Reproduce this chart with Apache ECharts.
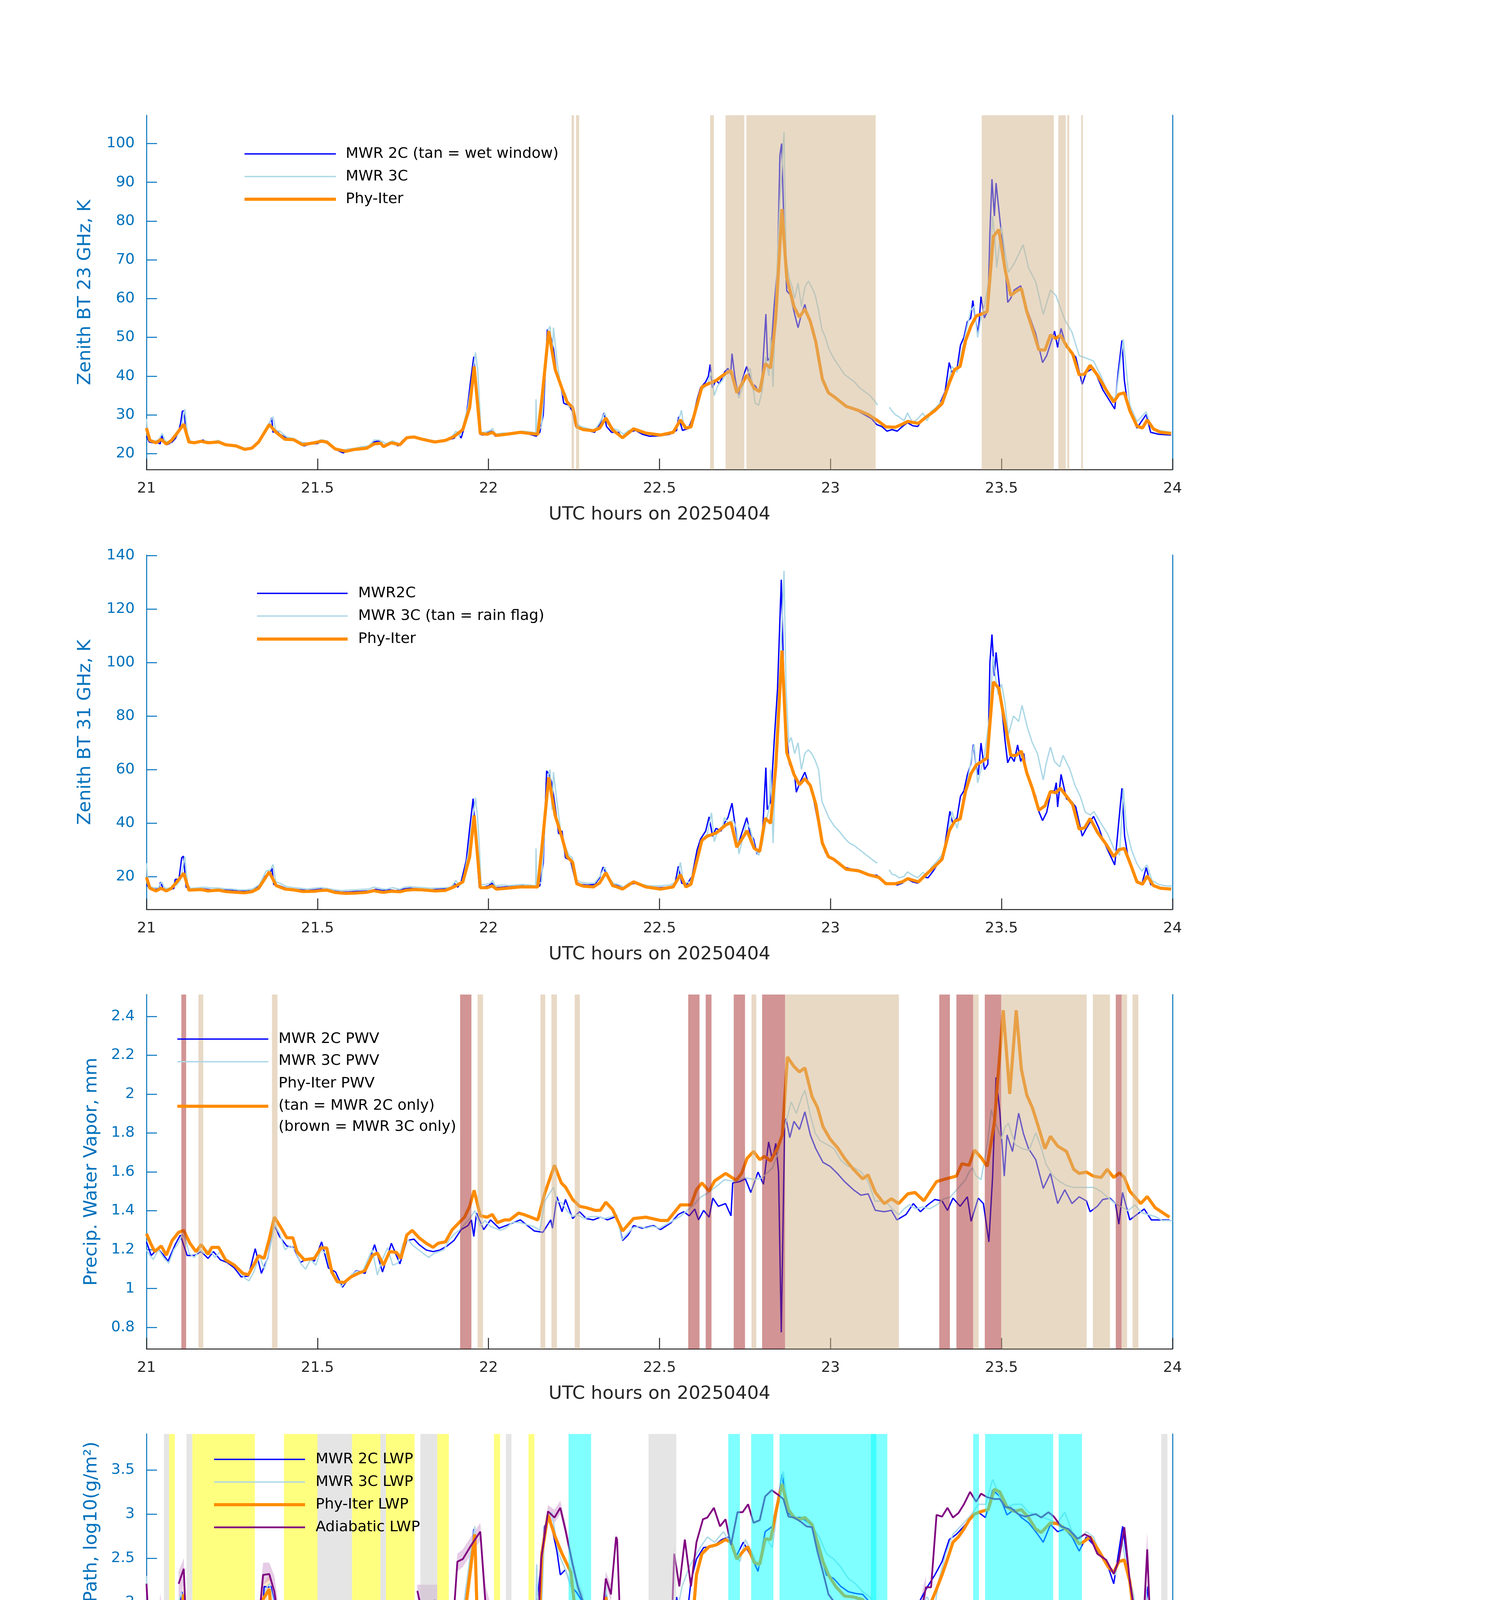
<!DOCTYPE html>
<html><head><meta charset="utf-8">
<script src="https://cdn.jsdelivr.net/npm/echarts@6/dist/echarts.min.js"></script>
<style>html,body{margin:0;padding:0;background:#fff}#c{width:3825px;height:6000px}</style>
</head><body><div id="c"></div>
<script>
// ---------------- DATA ----------------
const xTicks = [21, 21.5, 22, 22.5, 23, 23.5, 24];
const yTicks23 = [20,30,40,50,60,70,80,90,100];
const yTicks31 = [20,40,60,80,100,120,140];
const yTicksPWV = [0.8,1,1.2,1.4,1.6,1.8,2,2.2,2.4];
const yTicksLWP = [0,0.5,1,1.5,2,2.5,3,3.5];
const yTicksFlag = [0,2,4,6,8,10];

// Phy-Iter retrieval times (hours) shared by the two brightness-temperature panels
const phyT = [21.0,21.01,21.028,21.043,21.058,21.073,21.089,21.109,21.124,21.14,21.16,21.18,21.211,21.231,21.262,21.287,21.308,21.328,21.359,21.379,21.405,21.43,21.456,21.491,21.512,21.527,21.552,21.583,21.609,21.644,21.665,21.685,21.693,21.716,21.741,21.761,21.782,21.807,21.843,21.874,21.899,21.925,21.945,21.958,21.976,21.996,22.011,22.023,22.052,22.093,22.144,22.156,22.176,22.195,22.215,22.23,22.246,22.258,22.277,22.307,22.325,22.343,22.363,
22.376,22.392,22.424,22.46,22.503,22.54,22.561,22.577,22.592,22.624,22.64,22.666,22.693,22.709,22.726,22.756,22.777,22.793,22.809,22.825,22.84,22.858,22.872,22.893,22.909,22.925,22.941,22.957,22.976,22.994,23.01,23.046,23.083,23.11,23.141,23.162,23.189,23.21,23.226,23.257,23.279,23.305,23.326,23.347,23.363,23.379,23.395,23.411,23.426,23.458,23.476,23.492,23.511,23.527,23.543,23.558,23.574,23.59,23.609,23.627,23.643,23.659,23.672,23.69,23.708,23.727,23.743,23.759,23.78,23.806,23.828,23.843,23.859,23.875,23.896,23.912,23.926,23.944,23.965,23.996];
const phyBT23 = [26.6,23.4,22.8,23.7,22.5,23.4,25.2,27.6,23.0,22.8,23.2,22.8,23.0,22.3,22.0,21.1,21.4,23.0,27.5,25.5,23.7,23.6,22.3,22.8,23.2,23.0,21.2,20.6,21.1,21.4,22.5,22.7,21.8,22.8,22.3,24.1,24.3,23.7,23.0,23.4,24.4,26.2,31.9,42.5,25.2,25.0,25.5,24.7,25.0,25.5,25.0,34.0,51.6,41.7,36.8,33.3,31.9,26.9,26.2,25.9,26.6,29.2,26.1,
25.2,24.1,26.4,25.3,24.8,25.5,28.7,26.6,26.9,37.2,37.9,38.9,40.7,41.4,35.7,40.3,36.8,36.0,43.2,42.1,55.2,83.1,65.4,58.0,55.2,57.3,54.1,48.8,39.3,35.7,34.7,32.2,31.1,30.1,28.3,26.9,26.8,27.6,28.3,27.8,29.4,31.1,32.9,38.2,41.7,42.5,49.2,53.0,55.5,56.6,76.0,77.8,67.2,60.8,61.9,62.6,56.6,52.3,46.8,46.7,50.6,49.7,50.6,47.8,45.7,40.3,40.5,42.8,40.3,36.4,33.3,35.3,35.7,31.1,27.1,26.6,28.7,26.4,25.5,25.2];
const phyBT31 = [19.7,15.6,14.6,15.6,14.6,15.6,18.0,21.2,14.9,15.0,15.1,14.6,14.9,14.4,14.1,13.9,14.3,15.6,21.7,16.6,15.3,15.0,14.4,14.5,14.8,14.9,14.0,13.7,13.8,14.1,14.7,14.2,14.1,14.5,14.3,14.9,15.1,15.0,14.6,14.8,16.1,18.0,27.4,42.8,15.8,15.8,16.5,15.3,15.6,16.1,16.1,30.5,57.1,42.8,34.6,27.4,25.3,17.3,16.4,16.1,17.6,21.4,16.6,
16.1,15.3,18.0,16.1,15.3,16.1,20.7,16.1,17.1,33.5,35.1,36.3,39.2,40.2,31.0,37.1,30.5,29.4,41.8,39.9,61.2,104.5,66.4,58.2,54.3,56.6,54.0,47.0,32.5,27.4,26.4,22.7,22.1,20.7,19.7,17.3,17.3,18.0,19.2,18.0,20.7,23.8,26.4,37.0,40.7,41.5,52.0,58.5,61.7,64.3,92.8,90.4,76.6,65.3,65.3,66.9,58.7,53.0,44.8,46.4,51.8,51.3,53.0,50.0,46.9,37.7,38.2,41.7,36.6,32.0,27.4,30.0,30.5,25.3,18.0,17.1,20.2,16.6,15.6,15.3];

const bt23_2C = [[21.0,24.5],[21.008,23.0],[21.02,22.8],[21.03,23.0],[21.04,22.5],[21.045,25.0],[21.05,23.0],[21.06,22.3],[21.075,23.0],[21.085,24.0],[21.095,26.0],[21.1,28.0],[21.105,31.0],[21.11,31.0],[21.115,26.0],[21.122,23.5],[21.13,22.8],[21.15,23.0],[21.165,23.5],[21.18,22.7],[21.2,23.1],[21.22,22.8],[21.24,22.2],[21.26,22.0],[21.28,21.3],[21.3,21.3],[21.315,22.0],[21.33,23.5],[21.345,25.5],[21.36,28.0],[21.366,29.2],[21.37,25.5],[21.38,26.0],[21.39,25.0],[21.41,24.0],[21.43,23.6],[21.45,22.8],[21.46,22.0],[21.48,22.5],[21.5,22.6],[21.515,23.5],[21.53,23.0],[21.545,21.5],[21.56,20.8],[21.575,20.2],[21.59,20.8],[21.61,21.0],[21.63,21.5],[21.65,21.8],[21.665,23.0],[21.68,23.3],[21.69,22.0],[21.705,22.5],[21.72,23.0],[21.735,22.0],[21.75,23.5],[21.765,24.0],[21.78,24.2],[21.8,23.8],[21.82,23.3],[21.84,23.0],[21.86,23.2],[21.88,23.5],[21.9,24.0],[21.91,25.5],[21.92,24.0],[21.93,27.0],[21.94,33.0],[21.948,39.0],[21.957,45.0],[21.965,35.0],[21.975,25.0],[21.985,24.8],[22.0,25.5],[22.01,25.8],[22.02,24.5],[22.04,25.0],[22.06,25.0],[22.08,25.3],[22.1,25.5],[22.12,25.0],[22.14,24.5],[22.15,25.5],[22.16,30.0],[22.172,52.0],[22.18,51.0],[22.19,47.0],[22.2,40.0],[22.21,38.5],[22.22,33.0],[22.235,32.5],[22.245,31.0],[22.255,27.0],[22.27,26.5],[22.29,26.0],[22.31,25.5],[22.325,27.5],[22.338,30.5],[22.345,27.0],[22.36,25.5],[22.38,25.5],[22.39,24.2],[22.41,25.5],[22.43,26.0],[22.45,25.0],[22.47,24.5],[22.5,24.6],[22.53,25.0],[22.55,26.0],[22.556,29.5],[22.567,26.0],[22.585,26.5],[22.6,30.0],[22.61,34.0],[22.62,37.0],[22.635,38.5],[22.643,40.0],[22.648,43.0],[22.655,37.0],[22.665,39.0],[22.675,38.0],[22.69,41.0],[22.7,42.0],[22.708,40.5],[22.712,45.8],[22.72,40.0],[22.73,35.0],[22.745,40.0],[22.755,42.5],[22.77,38.0],[22.78,37.5],[22.79,36.0],[22.8,40.0],[22.811,56.0],[22.816,44.0],[22.825,45.0],[22.835,58.0],[22.845,68.0],[22.852,97.0],[22.857,100.0],[22.865,75.0],[22.872,62.0],[22.882,61.0],[22.895,56.0],[22.905,52.5],[22.915,56.0],[22.925,58.5],[22.935,55.0],[22.95,52.0],[22.96,47.0],[22.975,39.0],[22.99,36.0],[23.0,35.5],[23.02,34.0],[23.04,32.5],[23.06,31.8],[23.08,31.0],[23.1,30.0],[23.12,29.0],[23.135,27.5],[23.15,27.0],[23.165,25.8],[23.18,26.2],[23.195,25.8],[23.21,27.0],[23.225,28.0],[23.24,27.2],[23.255,27.0],[23.27,29.0],[23.285,29.5],[23.3,31.0],[23.32,33.0],[23.335,36.0],[23.347,43.5],[23.355,41.0],[23.37,42.0],[23.38,48.0],[23.39,50.0],[23.4,54.0],[23.41,55.0],[23.416,59.5],[23.425,54.0],[23.432,51.0],[23.44,60.5],[23.45,55.0],[23.46,57.0],[23.466,77.0],[23.472,90.8],[23.479,81.3],[23.484,89.8],[23.495,80.6],[23.511,67.9],[23.518,59.0],[23.527,60.1],[23.537,62.2],[23.556,63.3],[23.574,57.3],[23.6,50.9],[23.62,43.5],[23.632,45.3],[23.655,51.6],[23.664,47.4],[23.674,52.3],[23.69,47.4],[23.717,44.9],[23.736,37.9],[23.748,41.0],[23.769,42.1],[23.796,36.5],[23.831,31.5],[23.841,41.0],[23.852,49.2],[23.859,39.0],[23.87,31.9],[23.896,26.6],[23.923,30.1],[23.936,25.5],[23.96,25.0],[23.996,24.8]];
const bt23_3C = [[21.0,29.0],[21.005,24.0],[21.02,23.2],[21.035,23.5],[21.046,25.2],[21.055,23.2],[21.07,22.8],[21.085,24.5],[21.1,26.5],[21.112,31.5],[21.12,25.0],[21.13,23.0],[21.15,23.2],[21.17,23.3],[21.19,23.0],[21.21,23.4],[21.23,22.5],[21.25,22.2],[21.27,21.8],[21.29,21.4],[21.31,21.6],[21.33,23.5],[21.35,26.0],[21.362,28.5],[21.37,29.5],[21.378,26.0],[21.39,25.8],[21.41,24.3],[21.43,23.9],[21.45,23.0],[21.47,22.7],[21.49,22.8],[21.51,23.6],[21.53,23.2],[21.55,21.4],[21.57,20.8],[21.59,21.2],[21.61,21.4],[21.63,21.8],[21.65,22.0],[21.665,23.5],[21.68,23.5],[21.7,22.6],[21.72,23.3],[21.74,22.5],[21.755,23.8],[21.77,24.5],[21.79,24.2],[21.81,23.9],[21.83,23.5],[21.85,23.2],[21.87,23.6],[21.89,24.0],[21.905,25.8],[21.915,24.5],[21.925,27.0],[21.94,32.0],[21.95,38.0],[21.962,46.1],[21.968,42.0],[21.972,36.0],[21.978,25.5],[21.99,25.5],[22.005,26.0],[22.012,26.5],[22.02,25.0],[22.04,25.3],[22.06,25.3],[22.08,25.6],[22.1,25.8],[22.12,25.6],[22.138,25.4],[22.139,34.0],[22.141,25.4],[22.155,27.0],[22.165,40.0],[22.175,52.0],[22.18,52.9],[22.186,45.0],[22.19,52.5],[22.2,44.0],[22.21,38.0],[22.218,35.0],[22.225,35.5],[22.235,32.0],[22.245,32.5],[22.255,28.0],[22.27,27.0],[22.29,26.5],[22.31,26.0],[22.325,28.0],[22.34,30.5],[22.35,27.5],[22.365,26.5],[22.38,26.0],[22.395,25.0],[22.41,26.0],[22.43,26.3],[22.45,25.5],[22.47,25.0],[22.5,25.0],[22.53,25.3],[22.55,26.5],[22.564,31.2],[22.572,26.5],[22.59,27.0],[22.605,31.0],[22.62,36.0],[22.64,38.0],[22.652,41.0],[22.66,35.0],[22.67,37.5],[22.685,39.0],[22.7,41.5],[22.715,40.0],[22.725,37.0],[22.732,34.3],[22.75,39.0],[22.765,42.0],[22.78,33.0],[22.79,32.5],[22.8,36.0],[22.81,45.0],[22.82,40.0],[22.825,50.0],[22.832,37.2],[22.84,60.0],[22.852,85.0],[22.864,103.0],[22.87,70.0],[22.88,65.0],[22.888,63.0],[22.895,60.0],[22.905,64.0],[22.915,58.0],[22.925,63.0],[22.935,64.5],[22.945,63.0],[22.955,61.0],[22.965,57.0],[22.975,52.0],[22.985,50.0],[22.995,47.0],[23.01,44.5],[23.025,42.5],[23.04,40.5],[23.055,39.5],[23.07,38.5],[23.085,37.0],[23.1,36.0],[23.115,35.0],[23.13,33.5],[23.137,32.5],[23.15,null],[23.172,32.0],[23.18,31.0],[23.19,30.0],[23.2,29.5],[23.215,28.5],[23.225,30.5],[23.24,28.0],[23.255,29.0],[23.27,30.5],[23.282,28.5],[23.295,31.0],[23.31,32.0],[23.325,33.5],[23.34,37.0],[23.355,42.5],[23.37,41.0],[23.385,47.0],[23.4,53.0],[23.41,57.0],[23.42,58.0],[23.43,50.0],[23.44,55.0],[23.45,58.0],[23.465,66.0],[23.474,81.3],[23.48,76.0],[23.486,68.0],[23.5,78.5],[23.51,72.0],[23.52,66.8],[23.537,69.0],[23.563,73.9],[23.579,67.9],[23.6,64.3],[23.622,55.9],[23.643,62.2],[23.659,60.8],[23.685,54.5],[23.706,51.3],[23.727,45.3],[23.748,44.6],[23.769,43.9],[23.791,40.0],[23.812,35.4],[23.833,34.0],[23.856,49.5],[23.875,32.6],[23.896,28.3],[23.923,30.8],[23.938,26.6],[23.96,26.0],[23.996,25.5]];

const bt31_2C = [[21.0,17.0],[21.01,15.5],[21.025,15.2],[21.037,15.5],[21.041,17.9],[21.05,15.0],[21.07,15.2],[21.08,15.5],[21.084,18.9],[21.095,19.0],[21.103,27.0],[21.108,27.6],[21.116,16.0],[21.13,15.2],[21.15,15.5],[21.17,15.3],[21.19,15.0],[21.21,15.0],[21.23,14.9],[21.25,14.8],[21.27,14.5],[21.29,14.5],[21.31,14.7],[21.33,16.5],[21.345,20.0],[21.36,21.0],[21.367,23.1],[21.372,17.0],[21.39,16.5],[21.41,15.5],[21.43,15.2],[21.45,15.0],[21.47,14.8],[21.49,15.0],[21.51,15.3],[21.53,15.0],[21.55,14.5],[21.57,14.2],[21.59,14.2],[21.61,14.4],[21.63,14.5],[21.65,14.6],[21.67,15.2],[21.69,14.7],[21.71,15.0],[21.73,14.7],[21.75,15.3],[21.77,15.6],[21.79,15.4],[21.81,15.2],[21.83,15.0],[21.85,15.2],[21.87,15.4],[21.89,15.6],[21.9,17.5],[21.91,16.0],[21.92,18.0],[21.935,26.0],[21.945,38.0],[21.955,49.1],[21.965,30.0],[21.973,16.0],[21.985,16.0],[22.0,16.5],[22.01,17.5],[22.02,15.8],[22.04,16.0],[22.06,16.2],[22.08,16.5],[22.1,16.5],[22.12,16.0],[22.14,15.8],[22.15,16.5],[22.16,25.0],[22.17,59.5],[22.178,58.0],[22.185,55.0],[22.195,46.0],[22.205,36.0],[22.215,37.0],[22.225,27.0],[22.24,26.0],[22.255,18.0],[22.27,17.0],[22.29,16.8],[22.31,17.0],[22.325,19.5],[22.335,23.5],[22.345,21.0],[22.36,17.0],[22.38,16.5],[22.395,15.5],[22.41,17.0],[22.43,17.5],[22.45,16.5],[22.47,16.0],[22.5,15.8],[22.53,16.0],[22.545,17.0],[22.555,23.8],[22.565,17.5],[22.58,17.0],[22.595,20.0],[22.61,30.0],[22.62,34.0],[22.635,37.0],[22.645,42.3],[22.655,35.0],[22.665,38.0],[22.68,37.0],[22.69,40.0],[22.7,42.0],[22.712,47.4],[22.72,40.0],[22.73,32.0],[22.745,38.0],[22.755,42.0],[22.765,36.0],[22.775,34.0],[22.785,28.4],[22.8,33.0],[22.811,60.7],[22.815,45.0],[22.825,48.0],[22.835,70.0],[22.845,90.0],[22.856,131.0],[22.863,95.0],[22.87,75.0],[22.88,62.0],[22.895,58.0],[22.9,51.5],[22.91,55.0],[22.925,59.0],[22.935,55.0],[22.945,53.0],[22.955,46.0],[22.97,36.0],[22.985,29.0],[23.0,27.0],[23.02,25.0],[23.04,23.5],[23.06,22.8],[23.08,22.5],[23.1,21.5],[23.12,20.5],[23.135,20.5],[23.15,19.0],[23.165,17.0],[23.18,17.5],[23.195,16.8],[23.21,17.5],[23.225,19.0],[23.24,18.0],[23.255,17.5],[23.27,20.0],[23.285,19.5],[23.3,22.0],[23.315,25.0],[23.33,28.0],[23.349,44.4],[23.357,40.0],[23.37,42.0],[23.38,50.0],[23.39,52.0],[23.4,58.0],[23.41,62.0],[23.418,69.4],[23.425,62.0],[23.432,58.0],[23.44,69.9],[23.45,60.0],[23.46,62.0],[23.466,100.0],[23.472,110.5],[23.479,95.0],[23.484,103.8],[23.495,90.0],[23.511,70.0],[23.518,62.5],[23.527,65.0],[23.537,63.0],[23.547,69.2],[23.556,63.0],[23.565,66.0],[23.574,58.0],[23.6,50.0],[23.61,44.0],[23.62,40.9],[23.632,44.0],[23.645,52.0],[23.655,52.0],[23.66,55.1],[23.664,46.0],[23.674,58.2],[23.69,49.0],[23.705,48.0],[23.717,46.0],[23.736,35.1],[23.748,38.0],[23.769,42.5],[23.785,38.0],[23.796,34.0],[23.81,30.0],[23.831,24.3],[23.841,38.0],[23.852,53.0],[23.86,35.0],[23.87,27.0],[23.885,22.0],[23.896,18.0],[23.91,17.0],[23.923,23.3],[23.936,17.0],[23.96,16.0],[23.98,15.7],[23.996,15.5]];
const bt31_3C = [[21.0,25.0],[21.005,16.5],[21.02,15.8],[21.035,15.8],[21.044,18.0],[21.055,15.5],[21.075,15.8],[21.09,17.0],[21.1,19.0],[21.112,27.5],[21.12,17.0],[21.13,15.5],[21.15,15.8],[21.17,16.0],[21.19,15.7],[21.21,15.7],[21.23,15.4],[21.25,15.3],[21.27,15.0],[21.29,15.0],[21.31,15.3],[21.33,17.0],[21.35,22.0],[21.362,22.5],[21.37,24.5],[21.378,18.0],[21.39,17.5],[21.41,16.2],[21.43,15.8],[21.45,15.6],[21.47,15.3],[21.49,15.6],[21.51,15.9],[21.53,15.5],[21.55,15.0],[21.57,14.7],[21.59,14.9],[21.61,15.0],[21.63,15.2],[21.65,15.3],[21.665,16.0],[21.68,15.6],[21.7,15.2],[21.72,15.8],[21.74,15.2],[21.755,16.0],[21.77,16.2],[21.79,16.0],[21.81,15.8],[21.83,15.6],[21.85,15.7],[21.87,15.8],[21.89,16.0],[21.905,18.5],[21.915,16.5],[21.925,18.5],[21.94,28.0],[21.95,38.0],[21.962,49.5],[21.968,42.0],[21.973,32.0],[21.978,17.0],[21.99,17.0],[22.005,17.5],[22.012,18.5],[22.02,16.5],[22.04,16.8],[22.06,16.6],[22.08,16.8],[22.1,17.0],[22.12,16.8],[22.138,16.5],[22.139,30.5],[22.141,16.5],[22.155,18.0],[22.165,40.0],[22.175,58.0],[22.18,60.0],[22.186,45.0],[22.19,59.0],[22.2,48.0],[22.21,38.0],[22.218,32.0],[22.225,31.0],[22.235,28.0],[22.245,27.0],[22.255,19.0],[22.27,17.8],[22.29,17.5],[22.31,17.5],[22.325,20.0],[22.34,23.5],[22.35,20.0],[22.365,17.5],[22.38,17.0],[22.395,16.0],[22.41,17.5],[22.43,18.0],[22.45,17.0],[22.47,16.5],[22.5,16.5],[22.53,16.8],[22.55,18.0],[22.561,25.3],[22.57,17.5],[22.59,18.0],[22.605,24.0],[22.62,33.0],[22.64,36.0],[22.652,43.8],[22.66,33.0],[22.67,37.0],[22.685,39.0],[22.69,42.0],[22.7,40.0],[22.715,41.0],[22.725,38.0],[22.732,28.4],[22.745,35.0],[22.755,40.0],[22.765,38.0],[22.78,30.0],[22.79,27.9],[22.8,32.0],[22.81,40.0],[22.82,45.0],[22.825,60.0],[22.832,32.5],[22.84,62.0],[22.852,95.0],[22.864,134.3],[22.87,90.0],[22.878,70.0],[22.885,72.0],[22.895,66.0],[22.905,70.0],[22.915,60.0],[22.925,66.0],[22.935,67.4],[22.945,66.0],[22.955,63.5],[22.965,60.0],[22.975,48.0],[22.985,45.0],[22.995,42.0],[23.01,39.0],[23.025,37.0],[23.04,34.5],[23.055,32.5],[23.07,31.5],[23.085,30.0],[23.1,28.5],[23.115,27.0],[23.13,25.5],[23.137,25.0],[23.15,null],[23.172,22.5],[23.18,20.8],[23.19,20.5],[23.2,19.5],[23.215,20.0],[23.225,21.7],[23.24,20.5],[23.255,19.5],[23.27,21.5],[23.282,20.5],[23.295,23.5],[23.31,25.5],[23.325,28.0],[23.34,33.0],[23.355,44.3],[23.37,38.0],[23.385,47.0],[23.4,55.0],[23.41,63.0],[23.42,69.4],[23.43,55.0],[23.44,60.0],[23.45,65.0],[23.465,80.0],[23.475,102.3],[23.482,95.0],[23.49,88.0],[23.5,92.0],[23.51,85.0],[23.52,73.0],[23.535,80.0],[23.55,78.0],[23.56,84.0],[23.575,76.0],[23.59,70.0],[23.605,66.0],[23.622,56.1],[23.63,62.0],[23.643,68.4],[23.655,63.0],[23.67,61.0],[23.68,65.3],[23.7,60.0],[23.715,54.0],[23.73,50.0],[23.745,44.0],[23.76,43.0],[23.77,44.3],[23.79,40.0],[23.81,36.0],[23.83,30.0],[23.845,28.0],[23.856,53.0],[23.865,38.0],[23.88,30.0],[23.895,25.0],[23.91,22.0],[23.925,24.3],[23.94,18.5],[23.96,17.0],[23.98,16.5],[24.0,16.4]];

const pwv2C = [[21.0,1.24],[21.014,1.17],[21.033,1.205],[21.048,1.176],[21.063,1.141],[21.084,1.226],[21.099,1.275],[21.119,1.17],[21.14,1.17],[21.16,1.19],[21.18,1.155],[21.196,1.19],[21.216,1.148],[21.236,1.134],[21.257,1.106],[21.277,1.06],[21.298,1.064],[21.318,1.205],[21.336,1.078],[21.354,1.155],[21.374,1.324],[21.389,1.268],[21.41,1.219],[21.43,1.212],[21.45,1.134],[21.471,1.155],[21.491,1.141],[21.512,1.24],[21.532,1.106],[21.553,1.085],[21.573,1.007],[21.593,1.057],[21.614,1.092],[21.639,1.078],[21.667,1.226],[21.69,1.085],[21.716,1.233],[21.741,1.127],[21.761,1.247],[21.782,1.254],[21.797,1.226],[21.818,1.198],[21.838,1.19],[21.858,1.198],[21.879,1.219],[21.899,1.247],[21.92,1.303],[21.94,1.324],[21.95,1.353],[21.957,1.268],[21.965,1.388],[21.986,1.303],[22.006,1.353],[22.031,1.31],[22.062,1.331],[22.093,1.353],[22.134,1.296],[22.159,1.289],[22.182,1.353],[22.187,1.31],[22.2,1.472],[22.215,1.395],[22.225,1.458],[22.246,1.36],[22.266,1.395],[22.286,1.36],[22.307,1.353],[22.327,1.367],[22.348,1.353],[22.368,1.367],[22.376,1.367],[22.392,1.247],[22.408,1.275],[22.424,1.324],[22.45,1.31],[22.482,1.324],[22.503,1.303],[22.534,1.339],[22.555,1.381],[22.571,1.395],[22.587,1.374],[22.603,1.409],[22.614,1.353],[22.629,1.402],[22.645,1.367],[22.656,1.465],[22.672,1.423],[22.693,1.437],[22.709,1.374],[22.714,1.543],[22.735,1.55],[22.751,1.564],[22.767,1.494],[22.788,1.599],[22.804,1.536],[22.819,1.754],[22.83,1.663],[22.84,1.747],[22.848,1.6],[22.856,0.775],[22.86,1.2],[22.866,1.85],[22.87,1.874],[22.881,1.776],[22.893,1.86],[22.909,1.818],[22.925,1.909],[22.941,1.79],[22.957,1.719],[22.978,1.649],[22.999,1.628],[23.02,1.592],[23.041,1.55],[23.067,1.508],[23.089,1.48],[23.11,1.487],[23.131,1.402],[23.157,1.395],[23.178,1.402],[23.194,1.353],[23.221,1.381],[23.242,1.437],[23.263,1.395],[23.284,1.43],[23.305,1.458],[23.326,1.451],[23.342,1.402],[23.358,1.465],[23.379,1.423],[23.4,1.472],[23.411,1.346],[23.432,1.465],[23.447,1.437],[23.463,1.24],[23.474,1.578],[23.484,2.086],[23.495,1.909],[23.508,1.578],[23.516,1.79],[23.532,1.705],[23.55,1.902],[23.564,1.797],[23.579,1.719],[23.6,1.663],[23.622,1.515],[23.643,1.592],[23.664,1.437],[23.685,1.508],[23.706,1.437],[23.727,1.472],[23.748,1.451],[23.759,1.395],[23.78,1.423],[23.796,1.458],[23.817,1.465],[23.833,1.437],[23.843,1.331],[23.854,1.494],[23.875,1.353],[23.896,1.381],[23.917,1.409],[23.938,1.353],[23.959,1.353],[23.991,1.353]];
const pwv3C = [[21.0,1.2],[21.01,1.17],[21.02,1.15],[21.035,1.2],[21.05,1.16],[21.065,1.13],[21.08,1.2],[21.095,1.24],[21.105,1.28],[21.115,1.25],[21.125,1.18],[21.14,1.16],[21.155,1.2],[21.17,1.18],[21.185,1.2],[21.2,1.16],[21.215,1.19],[21.23,1.15],[21.245,1.13],[21.26,1.12],[21.275,1.08],[21.29,1.05],[21.3,1.04],[21.315,1.09],[21.33,1.17],[21.345,1.1],[21.36,1.2],[21.375,1.33],[21.39,1.28],[21.405,1.2],[21.42,1.22],[21.435,1.2],[21.45,1.13],[21.465,1.1],[21.48,1.15],[21.495,1.12],[21.51,1.2],[21.525,1.18],[21.54,1.08],[21.555,1.06],[21.57,1.01],[21.585,1.04],[21.6,1.07],[21.615,1.09],[21.63,1.08],[21.645,1.14],[21.66,1.2],[21.675,1.07],[21.69,1.15],[21.705,1.21],[21.72,1.12],[21.735,1.13],[21.75,1.23],[21.765,1.25],[21.78,1.22],[21.795,1.2],[21.81,1.18],[21.825,1.16],[21.84,1.18],[21.855,1.19],[21.87,1.2],[21.885,1.25],[21.9,1.28],[21.915,1.3],[21.93,1.33],[21.945,1.36],[21.96,1.4],[21.975,1.32],[21.99,1.35],[22.005,1.32],[22.02,1.31],[22.035,1.3],[22.05,1.31],[22.07,1.34],[22.09,1.34],[22.11,1.33],[22.13,1.32],[22.15,1.3],[22.165,1.45],[22.175,1.48],[22.19,1.52],[22.2,1.45],[22.215,1.44],[22.23,1.4],[22.245,1.37],[22.26,1.38],[22.28,1.36],[22.3,1.37],[22.32,1.37],[22.34,1.36],[22.36,1.37],[22.375,1.38],[22.39,1.25],[22.405,1.28],[22.42,1.31],[22.44,1.32],[22.46,1.31],[22.48,1.32],[22.5,1.31],[22.52,1.33],[22.54,1.35],[22.56,1.37],[22.58,1.4],[22.6,1.43],[22.62,1.47],[22.64,1.49],[22.67,1.53],[22.69,1.56],[22.72,1.55],[22.75,1.57],[22.78,1.56],[22.8,1.57],[22.83,1.62],[22.845,1.69],[22.86,1.8],[22.872,1.87],[22.885,1.96],[22.9,1.9],[22.915,1.98],[22.925,2.02],[22.94,1.9],[22.955,1.8],[22.97,1.76],[22.99,1.74],[23.01,1.72],[23.03,1.66],[23.05,1.63],[23.07,1.62],[23.09,1.6],[23.11,1.55],[23.13,1.45],[23.15,1.45],[23.165,1.44],[23.18,1.41],[23.2,1.38],[23.215,1.41],[23.23,1.43],[23.25,1.41],[23.27,1.42],[23.29,1.41],[23.31,1.43],[23.33,1.46],[23.35,1.47],[23.365,1.5],[23.38,1.53],[23.395,1.56],[23.405,1.6],[23.415,1.62],[23.425,1.58],[23.44,1.56],[23.46,1.76],[23.47,1.92],[23.48,1.86],[23.5,1.77],[23.51,1.83],[23.52,1.85],[23.54,1.74],[23.56,1.72],[23.58,1.71],[23.6,1.8],[23.615,1.73],[23.63,1.64],[23.65,1.58],[23.67,1.55],[23.69,1.53],[23.71,1.52],[23.73,1.52],[23.75,1.52],[23.77,1.52],[23.79,1.5],[23.81,1.47],[23.83,1.44],[23.85,1.42],[23.87,1.4],[23.89,1.43],[23.91,1.39],[23.93,1.38],[23.95,1.37],[23.97,1.35],[24.0,1.35]];
const pwvPhy = [[21.0,1.282],[21.012,1.233],[21.024,1.19],[21.043,1.219],[21.058,1.172],[21.075,1.247],[21.094,1.289],[21.109,1.299],[21.127,1.233],[21.145,1.19],[21.16,1.226],[21.18,1.176],[21.191,1.212],[21.211,1.212],[21.231,1.148],[21.257,1.12],[21.282,1.078],[21.298,1.071],[21.328,1.169],[21.344,1.155],[21.359,1.254],[21.374,1.367],[21.394,1.311],[21.41,1.261],[21.428,1.261],[21.44,1.19],[21.461,1.148],[21.491,1.155],[21.51,1.209],[21.527,1.209],[21.542,1.085],[21.558,1.035],[21.578,1.031],[21.598,1.06],[21.619,1.078],[21.639,1.092],[21.66,1.169],[21.675,1.183],[21.693,1.12],[21.711,1.19],[21.731,1.186],[21.744,1.155],[21.761,1.275],[21.777,1.299],[21.797,1.261],[21.818,1.233],[21.838,1.212],[21.853,1.233],[21.874,1.24],[21.894,1.303],[21.914,1.339],[21.93,1.367],[21.945,1.423],[21.958,1.505],[21.976,1.374],[21.996,1.367],[22.011,1.381],[22.026,1.339],[22.047,1.353],[22.062,1.353],[22.088,1.388],[22.103,1.381],[22.144,1.353],[22.164,1.487],[22.193,1.634],[22.213,1.543],[22.225,1.522],[22.246,1.458],[22.266,1.423],[22.286,1.416],[22.312,1.402],[22.327,1.402],[22.343,1.444],[22.363,1.406],[22.392,1.296],[22.424,1.36],[22.46,1.367],[22.503,1.35],[22.524,1.35],[22.561,1.43],[22.592,1.43],[22.608,1.508],[22.624,1.543],[22.645,1.501],[22.661,1.553],[22.693,1.592],[22.724,1.557],[22.74,1.592],[22.756,1.67],[22.775,1.705],[22.793,1.663],[22.807,1.68],[22.825,1.656],[22.846,1.726],[22.859,1.79],[22.874,2.191],[22.893,2.142],[22.909,2.114],[22.925,2.135],[22.946,1.987],[22.962,1.931],[22.978,1.832],[22.999,1.768],[23.02,1.726],[23.041,1.67],[23.067,1.613],[23.094,1.564],[23.11,1.585],[23.131,1.494],[23.157,1.437],[23.178,1.462],[23.199,1.437],[23.226,1.487],[23.247,1.494],[23.273,1.451],[23.31,1.55],[23.337,1.564],[23.368,1.578],[23.384,1.642],[23.405,1.634],[23.421,1.712],[23.442,1.67],[23.458,1.628],[23.479,1.853],[23.505,2.431],[23.524,2.001],[23.543,2.431],[23.558,2.128],[23.574,1.994],[23.59,1.931],[23.609,1.825],[23.627,1.719],[23.643,1.783],[23.664,1.733],[23.69,1.705],[23.711,1.613],[23.727,1.592],[23.748,1.599],[23.769,1.578],[23.791,1.571],[23.809,1.613],[23.828,1.571],[23.845,1.595],[23.859,1.571],[23.875,1.501],[23.907,1.437],[23.926,1.473],[23.949,1.416],[23.991,1.367]];

const lwp2C = [[21.0,1.87],[21.01,1.31],[21.022,1.41],[21.031,1.31],[21.041,1.78],[21.051,1.31],[21.066,1.30],[21.073,1.31],[21.084,1.90],[21.094,1.87],[21.104,2.12],[21.114,1.70],[21.119,1.31],[21.129,1.31],[21.145,1.31],[21.155,1.31],[21.175,1.25],[21.191,1.34],[21.206,1.25],[21.216,1.37],[21.231,1.16],[21.247,1.28],[21.262,1.22],[21.277,1.13],[21.287,1.31],[21.303,1.08],[21.317,1.25],[21.328,1.31],[21.336,1.62],[21.344,2.18],[21.354,2.17],[21.364,2.18],[21.374,2.0],[21.384,1.68],[21.394,1.31],[21.41,1.31],[21.43,1.22],[21.445,1.13],[21.461,1.25],[21.476,1.28],[21.491,1.13],[21.507,1.30],[21.522,1.27],[21.537,1.25],[21.558,1.03],[21.568,1.25],[21.583,1.25],[21.593,1.11],[21.609,1.24],[21.629,1.10],[21.649,1.27],[21.665,1.19],[21.68,1.25],[21.7,1.27],[21.716,1.14],[21.736,1.16],[21.756,1.36],[21.772,1.34],[21.787,1.31],[21.802,1.24],[21.818,1.28],[21.838,1.19],[21.853,1.31],[21.863,1.14],[21.884,1.28],[21.894,1.72],[21.911,2.0],[21.925,1.87],[21.935,2.18],[21.95,2.55],[21.957,2.83],[21.965,2.12],[21.976,1.37],[21.986,1.56],[21.996,1.37],[22.011,1.76],[22.021,1.34],[22.034,1.41],[22.047,1.41],[22.06,1.31],[22.067,1.53],[22.081,1.34],[22.093,1.58],[22.103,1.39],[22.113,1.37],[22.128,1.31],[22.144,2.06],[22.164,2.86],[22.179,2.96],[22.2,2.58],[22.21,2.31],[22.225,2.37],[22.241,2.18],[22.256,2.12],[22.276,2.0],[22.297,1.56],[22.312,1.53],[22.327,1.56],[22.343,2.12],[22.353,1.87],[22.368,1.65],[22.376,1.56],[22.392,1.30],[22.402,1.59],[22.413,1.84],[22.424,1.81],[22.434,1.75],[22.45,1.56],[22.466,1.37],[22.482,1.41],[22.497,1.31],[22.513,1.37],[22.534,1.28],[22.55,2.06],[22.566,1.62],[22.582,1.90],[22.592,2.24],[22.608,2.49],[22.629,2.62],[22.656,2.63],[22.682,2.71],[22.703,2.74],[22.724,2.52],[22.745,2.68],[22.772,2.49],[22.788,2.35],[22.809,2.80],[22.83,2.86],[22.851,3.27],[22.859,3.45],[22.872,3.02],[22.893,2.96],[22.914,2.96],[22.935,2.90],[22.951,2.83],[22.967,2.58],[22.988,2.31],[23.009,2.27],[23.03,2.18],[23.052,2.12],[23.073,2.10],[23.094,2.09],[23.115,2.0],[23.136,2.0],[23.152,1.87],[23.168,1.68],[23.178,1.62],[23.199,1.68],[23.221,1.93],[23.242,1.90],[23.263,2.03],[23.284,2.18],[23.305,2.31],[23.326,2.46],[23.347,2.71],[23.368,2.77],[23.39,2.86],[23.411,2.96],[23.432,3.02],[23.453,2.96],[23.474,3.27],[23.495,3.20],[23.516,2.99],[23.537,3.05],[23.558,2.96],[23.579,2.90],[23.6,2.80],[23.622,2.68],[23.643,2.88],[23.664,2.80],[23.685,2.83],[23.706,2.74],[23.727,2.58],[23.748,2.74],[23.769,2.65],[23.791,2.52],[23.812,2.40],[23.828,2.21],[23.843,2.58],[23.854,2.86],[23.864,2.58],[23.875,2.24],[23.896,1.56],[23.912,1.37],[23.928,2.18],[23.949,1.34],[23.97,1.16],[23.986,1.19],[23.996,1.08]];
const lwp3C = [[21.0,2.3],[21.01,0.38],[21.022,0.94],[21.033,0.32],[21.041,0.63],[21.051,0.47],[21.066,0.94],[21.078,1.5],[21.089,1.93],[21.102,2.12],[21.114,1.56],[21.124,0.63],[21.135,0.32],[21.145,0.01],[21.165,0.01],[21.18,0.47],[21.191,0.16],[21.201,0.78],[21.211,0.16],[21.226,0.01],[21.236,0.30],[21.257,0.01],[21.277,0.0],[21.298,0.01],[21.316,0.01],[21.323,0.94],[21.336,1.87],[21.349,2.15],[21.359,2.21],[21.371,2.03],[21.384,1.62],[21.394,1.19],[21.405,0.78],[21.415,0.69],[21.425,0.32],[21.435,0.38],[21.445,0.01],[21.471,0.01],[21.476,0.19],[21.486,0.01],[21.502,0.01],[21.512,0.63],[21.527,0.23],[21.553,0.01],[21.644,0.01],[21.665,0.66],[21.68,0.16],[21.695,0.01],[21.711,0.63],[21.721,0.01],[21.756,0.01],[21.767,0.69],[21.782,0.63],[21.797,0.32],[21.812,0.47],[21.828,0.32],[21.843,0.01],[21.853,0.54],[21.869,0.63],[21.884,0.26],[21.894,1.25],[21.904,0.38],[21.914,1.93],[21.93,2.03],[21.945,2.49],[21.96,2.86],[21.97,1.41],[21.981,0.63],[21.991,1.25],[22.006,0.94],[22.016,1.25],[22.026,0.82],[22.042,0.94],[22.057,1.0],[22.072,0.78],[22.088,0.94],[22.103,1.0],[22.118,0.88],[22.134,0.94],[22.141,2.43],[22.149,1.34],[22.164,2.80],[22.185,3.02],[22.205,2.55],[22.225,2.37],[22.246,2.12],[22.266,1.87],[22.286,1.25],[22.307,1.56],[22.327,1.31],[22.343,2.18],[22.353,1.87],[22.363,1.25],[22.376,0.63],[22.392,0.32],[22.408,1.34],[22.424,1.87],[22.439,1.25],[22.46,0.94],[22.476,0.63],[22.492,0.78],[22.508,0.44],[22.524,0.94],[22.54,0.78],[22.55,1.87],[22.566,2.18],[22.587,2.40],[22.619,2.62],[22.64,2.74],[22.661,2.68],[22.687,2.80],[22.714,2.62],[22.735,2.46],[22.751,2.71],[22.772,2.55],[22.788,2.40],[22.809,2.74],[22.83,2.62],[22.851,3.24],[22.862,3.48],[22.877,3.05],[22.899,2.96],[22.92,2.93],[22.946,2.86],[22.967,2.74],[22.988,2.55],[23.009,2.49],[23.03,2.40],[23.052,2.27],[23.073,2.21],[23.094,2.12],[23.115,2.06],[23.136,1.96],[23.162,1.75],[23.178,1.75],[23.194,1.65],[23.221,1.81],[23.242,1.81],[23.263,2.0],[23.284,2.06],[23.3,1.81],[23.316,2.24],[23.337,2.55],[23.358,2.77],[23.39,2.90],[23.411,2.99],[23.432,3.11],[23.453,3.11],[23.474,3.39],[23.495,3.20],[23.516,3.08],[23.537,3.11],[23.558,3.11],[23.579,3.02],[23.6,2.99],[23.622,2.96],[23.643,2.93],[23.664,2.90],[23.685,3.02],[23.706,2.80],[23.727,2.71],[23.748,2.80],[23.769,2.74],[23.791,2.52],[23.812,2.43],[23.833,2.31],[23.854,2.68],[23.864,2.43],[23.886,2.09],[23.907,1.37],[23.922,2.18],[23.938,1.25],[23.959,0.94],[23.975,0.69],[23.986,0.47],[23.999,0.29]];
const lwpPhy = [[21.0,1.87],[21.012,0.94],[21.028,0.0],[21.041,1.28],[21.058,-0.15],[21.075,null],[21.092,1.67],[21.109,2.09],[21.117,-0.15],[21.2,null],[21.323,1.31],[21.34,2.03],[21.359,2.15],[21.394,0.60],[21.6,null],[21.892,0.94],[21.909,1.50],[21.925,1.69],[21.96,2.77],[21.976,0.60],[21.993,0.61],[22.011,1.25],[22.025,null],[22.042,0.60],[22.065,-0.15],[22.093,0.88],[22.101,-0.15],[22.12,null],[22.141,0.94],[22.156,2.55],[22.174,2.99],[22.195,2.74],[22.215,2.55],[22.241,2.34],[22.256,1.81],[22.271,1.16],[22.292,1.0],[22.307,0.86],[22.322,1.56],[22.343,2.06],[22.358,1.62],[22.373,0.94],[22.381,-0.15],[22.392,null],[22.402,-0.15],[22.413,1.47],[22.427,1.69],[22.445,1.37],[22.46,0.97],[22.466,-0.15],[22.5,null],[22.54,-0.15],[22.561,2.0],[22.577,0.51],[22.592,1.56],[22.608,2.31],[22.624,2.55],[22.645,2.63],[22.666,2.65],[22.693,2.71],[22.709,2.68],[22.726,2.49],[22.745,2.58],[22.758,2.63],[22.777,2.45],[22.793,2.43],[22.809,2.72],[22.825,2.71],[22.84,3.02],[22.858,3.34],[22.877,3.05],[22.893,2.96],[22.909,2.94],[22.925,2.96],[22.946,2.88],[22.962,2.68],[22.978,2.46],[22.994,2.31],[23.015,2.18],[23.041,2.07],[23.067,2.06],[23.094,2.03],[23.11,1.90],[23.136,1.87],[23.162,1.47],[23.18,1.45],[23.194,1.31],[23.21,1.50],[23.226,1.79],[23.242,1.65],[23.257,1.56],[23.273,2.0],[23.294,2.0],[23.31,2.15],[23.326,2.31],[23.342,2.49],[23.358,2.68],[23.374,2.74],[23.39,2.83],[23.405,2.93],[23.421,3.0],[23.442,3.03],[23.461,3.05],[23.479,3.28],[23.495,3.25],[23.516,3.08],[23.537,3.03],[23.558,3.05],[23.579,2.96],[23.6,2.83],[23.616,2.79],[23.643,2.90],[23.664,2.89],[23.68,2.85],[23.706,2.77],[23.727,2.66],[23.738,2.68],[23.759,2.74],[23.785,2.58],[23.812,2.40],[23.828,2.34],[23.843,2.46],[23.859,2.48],[23.875,2.24],[23.896,1.56],[23.909,1.37],[23.926,1.92],[23.938,1.25],[23.954,-0.15]];
const lwpAdi = [[21.0,2.21],[21.01,1.45],[21.028,1.43],[21.041,1.93],[21.051,1.34],[21.058,1.03],[21.075,null],[21.094,2.21],[21.109,2.38],[21.124,0.97],[21.2,null],[21.325,1.62],[21.341,2.31],[21.359,2.32],[21.374,2.12],[21.392,1.62],[21.45,null],[21.512,1.0],[21.593,0.99],[21.7,null],[21.792,2.13],[21.807,1.87],[21.828,1.03],[21.843,2.03],[21.87,null],[21.892,1.50],[21.909,2.46],[21.925,2.49],[21.95,2.65],[21.976,2.80],[21.991,2.0],[22.011,1.65],[22.025,null],[22.044,1.62],[22.06,0.99],[22.077,1.25],[22.093,1.31],[22.108,1.11],[22.12,null],[22.141,1.34],[22.154,2.49],[22.174,3.03],[22.193,2.96],[22.21,3.07],[22.225,2.82],[22.246,2.43],[22.261,2.18],[22.277,2.0],[22.295,1.31],[22.312,1.41],[22.327,1.59],[22.343,2.27],[22.358,2.09],[22.373,2.74],[22.376,2.71],[22.387,1.56],[22.392,1.08],[22.408,1.59],[22.427,1.84],[22.439,1.56],[22.455,1.31],[22.471,1.0],[22.529,0.99],[22.543,2.55],[22.558,2.18],[22.574,2.71],[22.592,2.18],[22.608,2.68],[22.627,2.94],[22.64,2.96],[22.659,3.07],[22.677,2.86],[22.693,2.94],[22.709,2.65],[22.728,3.02],[22.743,3.02],[22.759,3.11],[22.775,2.90],[22.793,2.93],[22.809,3.20],[22.828,3.27],[22.846,3.22],[22.862,3.17],[22.877,2.97],[22.893,2.96],[22.914,2.91],[22.93,2.86],[22.946,2.85],[22.962,2.57],[22.978,2.34],[22.994,2.09],[23.025,1.93],[23.043,1.34],[23.06,1.42],[23.076,1.84],[23.094,1.39],[23.11,1.39],[23.128,1.0],[23.145,1.75],[23.162,1.11],[23.178,1.19],[23.194,1.42],[23.21,1.41],[23.226,1.64],[23.242,1.70],[23.257,1.73],[23.279,2.17],[23.294,2.17],[23.31,2.99],[23.326,2.97],[23.342,3.07],[23.358,2.96],[23.374,3.01],[23.39,3.11],[23.408,3.25],[23.426,3.14],[23.44,3.23],[23.458,3.19],[23.479,3.17],[23.495,3.17],[23.511,3.08],[23.527,3.07],[23.548,3.0],[23.569,2.97],[23.6,3.0],[23.616,2.96],[23.637,3.02],[23.653,2.97],[23.674,2.86],[23.696,2.83],[23.722,2.72],[23.743,2.77],[23.759,2.74],[23.78,2.55],[23.806,2.48],[23.828,2.32],[23.843,2.48],[23.859,2.85],[23.875,2.24],[23.896,1.72],[23.909,1.28],[23.926,2.60],[23.938,1.41],[23.959,1.16],[23.981,1.0]];
const lwpAdiMarker = [[21.693, 0.99]];

// Uncertainty envelopes [time, low, high], one list per contiguous segment
const lwpPhyBand = [
  [[21.0,-0.1,2.0],[21.012,-0.1,1.2],[21.028,-0.1,0.6],[21.041,-0.1,1.5],[21.058,-0.1,0.8]],
  [[21.092,-0.1,1.8],[21.109,-0.1,2.2],[21.117,-0.1,1.0]],
  [[21.323,0.9,1.6],[21.34,1.8,2.2],[21.359,1.9,2.3],[21.394,-0.1,1.0],[21.4,-0.1,0.8]],
  [[21.5,-0.1,0.86],[21.6,-0.1,0.86]],
  [[21.787,-0.1,0.9],[21.85,-0.1,0.95],[21.884,-0.1,0.9]],
  [[21.892,0.6,1.2],[21.925,1.4,1.9],[21.96,2.6,2.9],[21.976,-0.1,0.9],[22.011,-0.1,1.4]],
  [[22.04,-0.1,0.9],[22.12,-0.1,0.9]],
  [[22.376,-0.1,1.0],[22.55,-0.1,1.0]],
  [[22.561,-0.1,2.1],[22.577,-0.1,1.2],[22.592,1.2,1.7]],
  [[23.162,0.7,1.5],[23.18,0.2,1.5],[23.194,-0.1,1.35],[23.21,0.4,1.6],[23.226,1.0,1.85],[23.242,0.9,1.7],[23.257,0.5,1.6],[23.273,1.6,2.1]],
  [[23.896,1.0,1.7],[23.909,0.5,1.5],[23.926,1.3,2.0],[23.938,0.3,1.3],[23.954,-0.1,0.6]]
];
const lwpAdiBand = [
  [[21.0,1.6,2.4],[21.01,1.0,1.8],[21.028,1.0,1.7],[21.041,1.6,2.1],[21.051,0.8,1.5],[21.058,0.5,1.2]],
  [[21.094,2.0,2.35],[21.109,2.2,2.5],[21.124,0.5,1.2]],
  [[21.325,1.3,1.8],[21.341,2.2,2.45],[21.359,2.25,2.45],[21.374,1.9,2.3],[21.392,1.0,1.8]],
  [[21.5,0.38,1.34],[21.6,0.38,1.34]],
  [[21.792,0.9,2.2],[21.85,0.9,2.2]],
  [[21.892,1.3,1.7],[21.909,2.35,2.55],[21.925,2.4,2.6],[21.95,2.55,2.75],[21.976,2.7,2.9],[21.991,1.8,2.2],[22.011,1.4,1.9]],
  [[22.044,0.7,1.8],[22.06,0.5,1.3],[22.077,0.7,1.5],[22.093,0.6,1.5],[22.108,0.5,1.3]],
  [[22.141,1.2,1.5],[22.154,2.4,2.6],[22.174,2.95,3.1],[22.193,2.9,3.05],[22.21,3.0,3.15],[22.225,2.75,2.9],[22.246,2.35,2.5],[22.261,2.1,2.25],[22.277,1.9,2.1],[22.295,1.2,1.4],[22.312,1.3,1.5],[22.327,1.5,1.7],[22.343,2.2,2.35],[22.358,2.0,2.2],[22.373,2.65,2.8]],
  [[22.376,2.6,2.8],[22.392,0.9,1.3],[22.408,1.45,1.7],[22.427,1.75,1.95],[22.439,1.4,1.7],[22.455,1.1,1.5],[22.471,0.38,1.34],[22.529,0.38,1.34],[22.543,2.4,2.7]],
  [[23.025,1.75,2.05],[23.043,0.9,1.5],[23.06,1.0,1.55],[23.076,1.6,1.95],[23.094,0.8,1.5],[23.11,0.6,1.5],[23.128,0.2,1.2],[23.145,1.3,1.85],[23.162,0.5,1.4],[23.178,0.6,1.5],[23.194,0.9,1.7],[23.21,0.9,1.7],[23.226,1.2,1.9],[23.242,1.4,1.95],[23.257,1.5,1.95],[23.279,2.05,2.3]],
  [[23.896,1.4,1.9],[23.909,1.0,1.6],[23.926,2.4,2.8],[23.938,1.0,1.7],[23.959,0.6,1.4],[23.981,0.4,1.3]]
];

// DQ flags: minute index after 21 UTC at which each flag value occurs
const dqFlagValues = [0, 3, 4, 5, 6, 7, 9, 10, 11];
const dqFlagMinutes = [
  [0,1,2,5,6,19,20,21,22,23,47,53,54,55,56,57,58,59,60,62,64,65,66,68,69,71,72,73,78,79,80,81,82,83,84,85,86,87,93,94,95,96,97,98,99,100,101,104,105,110,130,131,132,133,134,135,136,137,138,139,140,141,142,159,164,165,166,167,168,169,170,171,172,173,174,175,176,177],
  [48,50,92],
  [3,7,30,31,32,33,34,35,41,49,63,88,89,90,91,127,178],
  [4,8,9,10,11,12,13,14,15,16,17,18,24,25,26,27,28,29,36,37,38,39,40,42,43,44,45,46,51,52,61,67,179],
  [70,108,111,112,113,115,116,143,144,145,146,147,149,150,151,152,158,161,178],
  [150,152],
  [102,106,107,108,109,111,147,148,150],
  [74,102,103,106,107,108,109,111,112,113,114,115,116,145,147,148,149,150,151,152,153,157,158,160],
  [74,75,76,77,102,103,106,107,108,109,111,112,113,114,115,116,117,118,119,120,121,122,123,124,125,126,127,128,129,145,147,148,149,150,151,152,153,154,155,156,157,158,160,161,162,163]
];

// Shaded windows [start, end] in hours
const wetWindow23 = [[22.243,22.25],[22.256,22.265],[22.648,22.659],[22.693,22.748],[22.754,23.132],[23.442,23.653],[23.666,23.688],[23.692,23.698],[23.733,23.738]];
const pwvTanOnly2C = [[21.152,21.166],[21.367,21.383],[21.968,21.984],[22.152,22.166],[22.184,22.2],[22.252,22.267],[22.769,22.783],[22.867,23.2],[23.417,23.433],[23.499,23.749],[23.767,23.817],[23.851,23.867],[23.883,23.9]];
const pwvBrownOnly3C = [[21.102,21.116],[21.917,21.95],[22.584,22.617],[22.635,22.652],[22.717,22.75],[22.8,22.867],[23.318,23.349],[23.368,23.417],[23.451,23.499],[23.834,23.851]];
const lwpYellow = [[21.066,21.083],[21.134,21.317],[21.402,21.5],[21.601,21.684],[21.7,21.784],[21.85,21.884],[22.016,22.034],[22.117,22.134]];
const lwpGray = [[21.051,21.066],[21.117,21.134],[21.5,21.601],[21.684,21.7],[21.801,21.85],[22.051,22.067],[22.468,22.549],[23.967,23.985]];
const lwpCyan = [[22.234,22.3],[22.701,22.735],[22.768,22.833],[22.851,23.166],[23.118,23.134],[23.417,23.434],[23.452,23.651],[23.667,23.735]];

// ---------------- CHART ----------------
const FONT = 'DejaVu Sans';
const AX = '#0072BD', DARK = '#262626';
const C2 = '#0000FF', C3 = '#ADD8E6', CP = '#FF8C00', CA = '#800080';
const tops = [295, 1421, 2546, 3671, 4795];
const panels = [
  {min:15.9, max:107.3, ticks:yTicks23, name:'Zenith BT 23 GHz, K', gap:133},
  {min:7.7, max:140.2, ticks:yTicks31, name:'Zenith BT 31 GHz, K', gap:133},
  {min:0.69, max:2.512, ticks:yTicksPWV, name:'Precip. Water Vapor, mm', gap:117},
  {min:-0.106, max:3.906, ticks:yTicksLWP, name:'log10 Liquid Water Path, log10(g/m²)', gap:117},
  {min:-0.51, max:11.5, ticks:yTicksFlag, name:'MWR Phy Iter DQ Flag', gap:108}
];
const grid = tops.map(t => ({left:375, width:2627, top:t, height:907, containLabel:false}));
const xAxis = tops.map((t,i) => ({
  gridIndex:i, type:'value', min:xTicks[0], max:xTicks[xTicks.length-1], interval:0.5,
  axisLine:{show:true, onZero:false, lineStyle:{color:DARK, width:2.5}},
  axisTick:{show:true, inside:true, length:28, lineStyle:{color:DARK, width:2.5}},
  axisLabel:{fontSize:38, color:DARK, margin:30, fontFamily:FONT},
  splitLine:{show:false},
  name:'UTC hours on 20250404', nameLocation:'middle', nameGap:92,
  nameTextStyle:{fontSize:47, color:DARK, fontFamily:FONT}
}));
const yAxis = [];
panels.forEach((p,i) => {
  yAxis.push({gridIndex:i, type:'value', position:'left', min:p.min, max:p.max,
    axisLine:{show:true, onZero:false, lineStyle:{color:AX, width:2.5}},
    axisTick:{show:true, inside:true, length:27, lineStyle:{color:AX, width:2.5}, customValues:p.ticks},
    axisLabel:{fontSize:38, color:AX, margin:30, fontFamily:FONT, customValues:p.ticks},
    splitLine:{show:false},
    name:p.name, nameLocation:'middle', nameGap:p.gap,
    nameTextStyle:{fontSize:47, color:AX, fontFamily:FONT}});
  yAxis.push({gridIndex:i, type:'value', position:'right', min:p.min, max:p.max,
    axisLine:{show:true, onZero:false, lineStyle:{color:AX, width:2.5}},
    axisTick:{show:false}, axisLabel:{show:false}, splitLine:{show:false}});
});

function line(i, data, color, width, z) {
  return {type:'line', xAxisIndex:i, yAxisIndex:2*i, data, showSymbol:false, symbol:'none',
    lineStyle:{color, width}, itemStyle:{color}, z, clip:true, connectNulls:false, silent:true, animation:false};
}
function bands(i, data, fill, z) {
  return {type:'custom', xAxisIndex:i, yAxisIndex:2*i, data, z, silent:true, animation:false,
    renderItem:(params, api) => {
      const cs = params.coordSys;
      const a = api.coord([api.value(0), panels[i].min])[0];
      const b = api.coord([api.value(1), panels[i].min])[0];
      return {type:'rect', shape:{x:a, y:cs.y, width:Math.max(b-a,1), height:cs.height}, style:{fill}};
    }};
}
function envelope(i, segs, fill, z) {
  return {type:'custom', xAxisIndex:i, yAxisIndex:2*i, data:segs.map(s => [s[0][0], 1]), z, silent:true, animation:false,
    renderItem:(params, api) => {
      const seg = segs[params.dataIndex];
      const top = seg.map(p => api.coord([p[0], p[2]]));
      const bot = seg.slice().reverse().map(p => api.coord([p[0], p[1]]));
      return {type:'polygon', shape:{points: top.concat(bot)}, style:{fill}};
    }};
}
const zip = (t, v) => t.map((x,k) => [x, v[k]]);
const TAN = 'rgba(210,180,140,0.5)', BROWN = 'rgba(165,42,42,0.5)';
const YEL = 'rgba(255,255,0,0.5)', GRY = 'rgba(204,204,204,0.5)', CYN = 'rgba(0,255,255,0.5)';

const flagPoints = [];
dqFlagValues.forEach((f,k) => dqFlagMinutes[k].forEach(m => flagPoints.push([21 + (m + 0.5)/60, f])));

const series = [
  line(0, bt23_2C, C2, 3.5, 2), line(0, bt23_3C, C3, 3.5, 3), line(0, zip(phyT, phyBT23), CP, 8, 4),
  bands(0, wetWindow23, TAN, 6),
  line(1, bt31_2C, C2, 3.5, 2), line(1, bt31_3C, C3, 3.5, 3), line(1, zip(phyT, phyBT31), CP, 8, 4),
  line(2, pwv2C, C2, 3.5, 2), line(2, pwv3C, C3, 3.5, 3), line(2, pwvPhy, CP, 8, 4),
  bands(2, pwvTanOnly2C, TAN, 6), bands(2, pwvBrownOnly3C, BROWN, 6),
  envelope(3, lwpPhyBand, 'rgba(255,140,0,0.2)', 1), envelope(3, lwpAdiBand, 'rgba(128,0,128,0.2)', 1),
  line(3, lwp2C, C2, 3.5, 2), line(3, lwp3C, C3, 3.5, 3), line(3, lwpPhy, CP, 8, 4), line(3, lwpAdi, CA, 4.5, 4),
  {type:'scatter', xAxisIndex:3, yAxisIndex:6, data:lwpAdiMarker, symbol:'path://M-1,-1L1,1M1,-1L-1,1', symbolSize:18,
    itemStyle:{color:'none', borderColor:CA, borderWidth:5}, z:4, silent:true},
  bands(3, lwpYellow, YEL, 6), bands(3, lwpGray, GRY, 6), bands(3, lwpCyan, CYN, 6),
  {type:'scatter', xAxisIndex:4, yAxisIndex:8, data:flagPoints, symbol:'circle', symbolSize:10,
    itemStyle:{color:CP}, z:4, silent:true, animation:false}
];

// legends (drawn as graphics)
const graphic = [];
function legendLine(x1, x2, y, color, w) {
  graphic.push({type:'line', z:100, shape:{x1, y1:y, x2, y2:y}, style:{stroke:color, lineWidth:w}});
}
function legendText(x, y, text) {
  graphic.push({type:'text', z:100, x, y, style:{text, fontSize:38, fontFamily:FONT, fill:'#000', align:'left', verticalAlign:'middle'}});
}
legendLine(626, 860, 394, C2, 3.5); legendText(885, 394, 'MWR 2C (tan = wet window)');
legendLine(626, 860, 452, C3, 3.5); legendText(885, 452, 'MWR 3C');
legendLine(626, 860, 510, CP, 8);   legendText(885, 510, 'Phy-Iter');
legendLine(658, 890, 1519, C2, 3.5); legendText(917, 1519, 'MWR2C');
legendLine(658, 890, 1577, C3, 3.5); legendText(917, 1577, 'MWR 3C (tan = rain flag)');
legendLine(658, 890, 1636, CP, 8);   legendText(917, 1636, 'Phy-Iter');
legendLine(454, 687, 2660, C2, 3.5); legendText(713, 2660, 'MWR 2C PWV');
legendLine(454, 687, 2718, C3, 3.5); legendText(713, 2716, 'MWR 3C PWV');
legendText(713, 2774, 'Phy-Iter PWV');
legendLine(454, 687, 2832, CP, 8);   legendText(713, 2831, '(tan = MWR 2C only)');
legendText(713, 2885, '(brown = MWR 3C only)');
legendLine(548, 781, 3736, C2, 3.5); legendText(808, 3736, 'MWR 2C LWP');
legendLine(548, 781, 3794, C3, 3.5); legendText(808, 3794, 'MWR 3C LWP');
legendLine(548, 781, 3852, CP, 8);   legendText(808, 3852, 'Phy-Iter LWP');
legendLine(548, 781, 3910, CA, 4.5); legendText(808, 3910, 'Adiabatic LWP');

const chart = echarts.init(document.getElementById('c'), null, {renderer:'canvas'});
chart.setOption({
  backgroundColor:'#ffffff', animation:false,
  textStyle:{fontFamily:FONT},
  grid, xAxis, yAxis, series, graphic
});
</script>
</body></html>
